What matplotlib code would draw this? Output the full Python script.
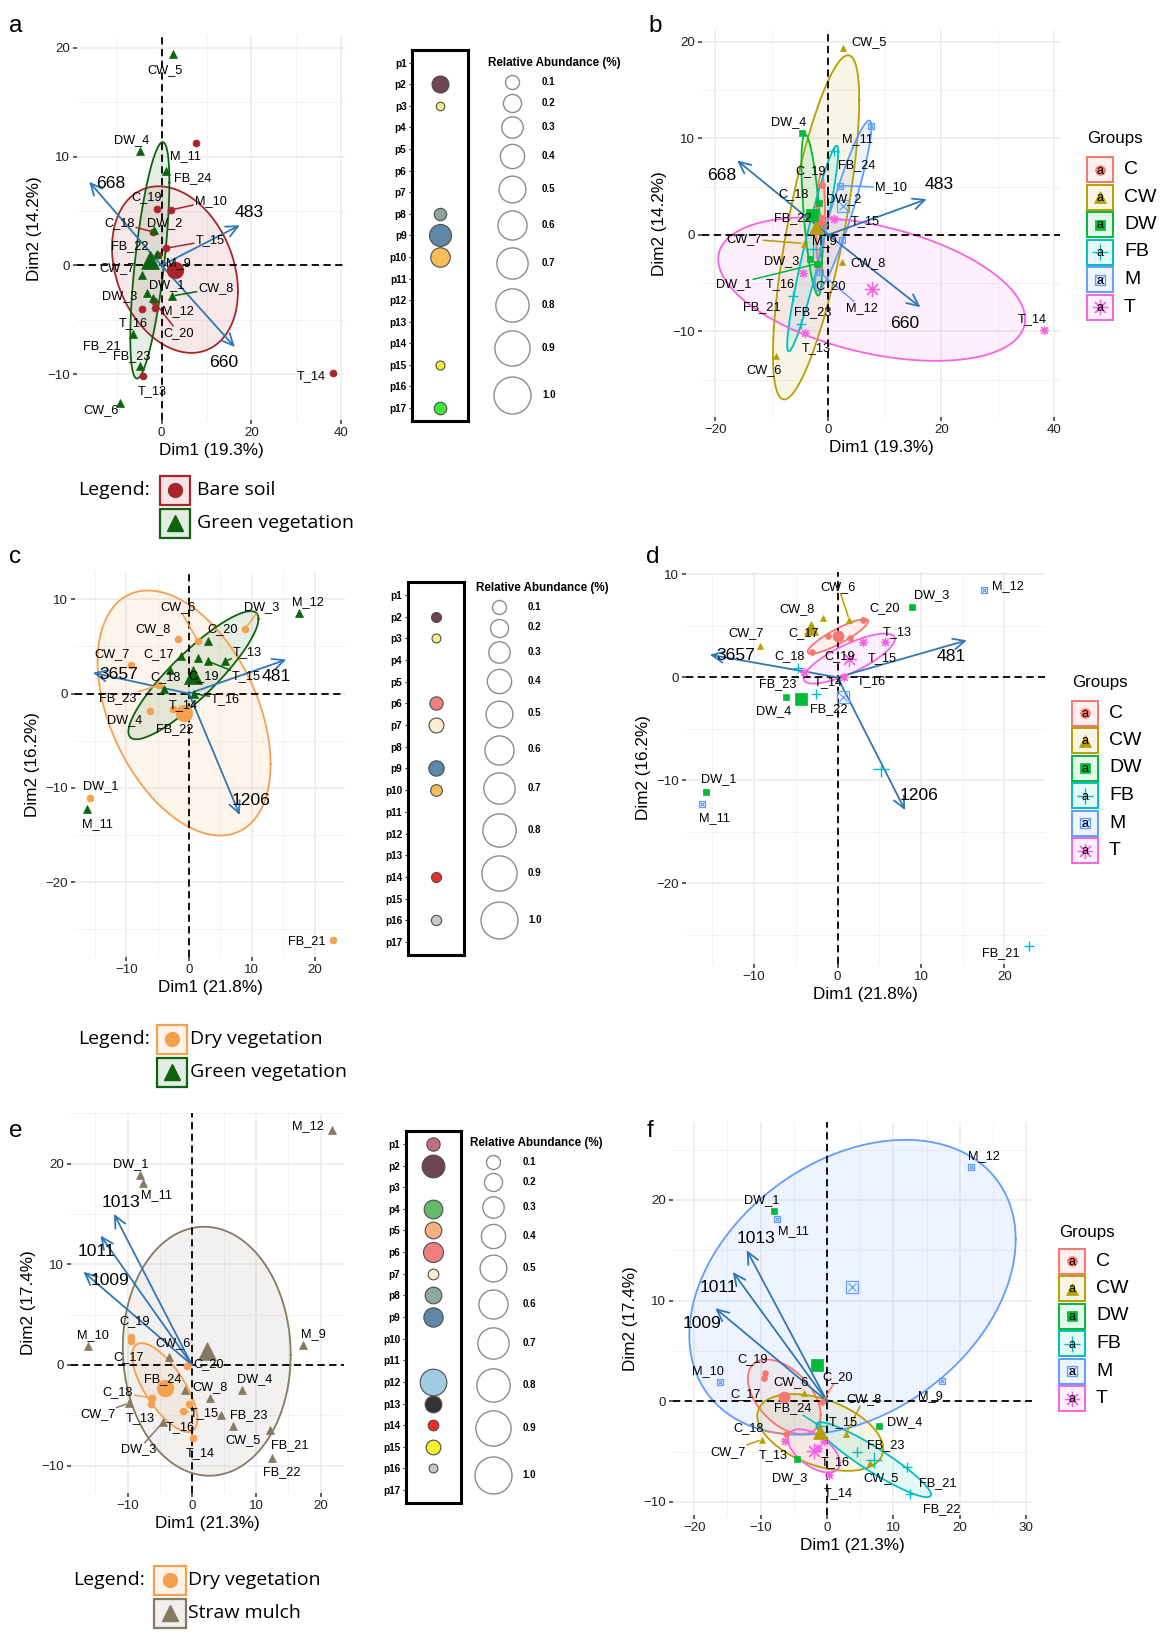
import numpy as np
import matplotlib
matplotlib.use('Agg')
import matplotlib.pyplot as plt
from matplotlib.ticker import FixedLocator
from matplotlib.patches import Rectangle
from matplotlib.colors import to_rgb

plt.rcParams['font.family'] = ['Liberation Sans', 'DejaVu Sans']
LEG_FONT = ['Open Sans', 'DejaVu Sans']

# ==================== data ====================
# PCA 1 (panels a, b)
samples_ab = ['C_17', 'C_18', 'C_19', 'C_20', 'CW_5', 'CW_6', 'CW_7', 'CW_8',
              'DW_1', 'DW_2', 'DW_3', 'DW_4', 'FB_21', 'FB_22', 'FB_23', 'FB_24',
              'M_9', 'M_10', 'M_11', 'M_12', 'T_13', 'T_14', 'T_15', 'T_16']
dim1_ab = [-0.7, -2.0, -1.1, -1.7, 2.6, -9.3, -4.3, 2.4,
           -2.0, -1.7, -3.3, -4.7, -6.3, -1.0, -4.8, 1.1,
           2.5, 2.0, 7.6, -1.5, -4.1, 38.1, 1.1, -4.4]
dim2_ab = [1.0, 3.1, 5.2, -3.3, 19.4, -12.6, -0.9, -2.8,
           -3.0, 3.3, -2.5, 10.5, -6.3, 1.1, -9.2, 8.7,
           -0.5, 5.1, 11.3, -3.9, -10.2, -9.9, 1.6, -4.0]
vars_ab = ['668', '483', '660']
var1_ab = [-16.1, 17.4, 16.3]
var2_ab = [7.7, 3.7, -7.5]

# PCA 2 (panels c, d)
samples_cd = ['C_17', 'C_18', 'C_19', 'C_20', 'CW_6', 'CW_7', 'CW_8',
              'DW_1', 'DW_3', 'DW_4', 'FB_21', 'FB_22', 'FB_23',
              'M_11', 'M_12', 'T_13', 'T_14', 'T_15', 'T_16']
dim1_cd = [-1.2, -3.1, 1.5, 3.0, 1.4, -9.3, -1.7,
           -15.7, 8.9, -6.2, 22.9, -2.6, -4.7,
           -16.2, 17.5, 5.7, -4.0, 3.1, 0.8]
dim2_cd = [4.0, 2.5, 3.8, 5.6, 5.6, 3.0, 5.8,
           -11.1, 6.8, -1.9, -26.1, -1.6, 0.9,
           -12.3, 8.5, 3.4, 0.5, 3.4, 0.0]
vars_cd = ['3657', '481', '1206']
var1_cd = [-15.3, 15.5, 8.1]
var2_cd = [2.2, 3.6, -12.9]

# PCA 3 (panels e, f)
samples_ef = ['C_17', 'C_18', 'C_19', 'C_20', 'CW_5', 'CW_6', 'CW_7', 'CW_8',
              'DW_1', 'DW_3', 'DW_4', 'FB_21', 'FB_22', 'FB_23', 'FB_24',
              'M_9', 'M_10', 'M_11', 'M_12', 'T_13', 'T_14', 'T_15', 'T_16']
dim1_ef = [-9.5, -6.2, -9.4, -0.7, 6.4, -3.5, -9.8, 2.8,
           -8.0, -4.5, 7.8, 12.1, 12.5, 4.5, -1.0,
           17.3, -16.1, -7.6, 21.7, -6.3, 0.25, -1.4, -0.5]
dim2_ef = [2.35, -3.3, 2.8, -0.1, -6.1, 0.8, -3.8, -3.3,
           18.9, -5.7, -2.5, -6.5, -9.2, -5.0, -2.5,
           2.0, 1.9, 18.1, 23.3, -3.9, -7.3, -4.6, -3.9]
vars_ef = ['1013', '1011', '1009']
var1_ef = [-12.1, -14.2, -16.85]
var2_ef = [15.0, 12.85, 9.25]

# habitat grouping used in panels a, c, e
habitat_a = {'C': 'Bare soil', 'M': 'Bare soil', 'T': 'Bare soil',
             'CW': 'Green vegetation', 'DW': 'Green vegetation', 'FB': 'Green vegetation'}
habitat_c = {'CW': 'Dry vegetation', 'DW': 'Dry vegetation', 'FB': 'Dry vegetation',
             'C': 'Green vegetation', 'M': 'Green vegetation', 'T': 'Green vegetation'}
habitat_e = {'C': 'Dry vegetation', 'T': 'Dry vegetation',
             'CW': 'Straw mulch', 'DW': 'Straw mulch', 'FB': 'Straw mulch', 'M': 'Straw mulch'}

# bubble panels (relative abundance %, nan = absent)
nan = np.nan
p_names = ['p%d' % i for i in range(1, 18)]
p_colors = ['#C0707F', '#6E4552', '#F6EC8C', '#66BB6A', '#F4B183', '#F08080', '#FBEBD0',
            '#8CA89E', '#5F88A8', '#F9BC5B', '#BBBBBB', '#A0CBE3', '#333333', '#EE2A2A',
            '#F5F02F', '#C8C8C8', '#3BE83B']
abund_a = [nan, 0.17, 0.005, nan, nan, nan, nan, 0.066, 0.32, 0.24,
           nan, nan, nan, nan, 0.012, nan, 0.07]
abund_c = [nan, 0.026, 0.01, nan, nan, 0.085, 0.12, nan, 0.13, 0.054,
           nan, nan, nan, 0.026, nan, 0.03, nan]
abund_e = [0.085, 0.345, nan, 0.217, 0.163, 0.256, 0.037, 0.163, 0.235, nan,
           nan, 0.495, 0.163, 0.037, 0.115, 0.01, nan]
size_breaks = [0.1, 0.2, 0.3, 0.4, 0.5, 0.6, 0.7, 0.8, 0.9, 1.0]

# ==================== label placement (data coords, seg flag) ====================
lab_a = {'CW_5': (0.7, 18.0, 0), 'DW_4': (-6.7, 11.5, 0), 'M_11': (5.4, 10.1, 0),
         'FB_24': (7.0, 8.0, 0), 'C_19': (-3.3, 6.3, 0), 'M_10': (10.9, 5.9, 1),
         'C_18': (-9.4, 3.9, 1), 'DW_2': (0.8, 3.9, 0), 'T_15': (10.8, 2.3, 1),
         'FB_22': (-7.0, 1.8, 0), 'CW_7': (-9.9, -0.25, 0), 'M_9': (3.7, 0.2, 0),
         'DW_1': (1.2, -1.8, 0), 'CW_8': (12.1, -2.1, 1), 'DW_3': (-9.3, -2.8, 0),
         'M_12': (3.6, -4.2, 0), 'T_16': (-6.4, -5.3, 0), 'C_20': (3.8, -6.2, 1),
         'FB_21': (-13.4, -7.4, 0), 'FB_23': (-6.7, -8.3, 0), 'T_13': (-2.1, -11.5, 0),
         'CW_6': (-13.5, -13.3, 0), 'T_14': (33.3, -10.2, 0)}
lab_b = {'CW_5': (7.2, 20.0, 0), 'DW_4': (-7.0, 11.7, 0), 'M_11': (5.1, 9.9, 0),
         'FB_24': (5.1, 7.2, 0), 'C_19': (-3.1, 6.6, 0), 'M_10': (11.0, 4.9, 1),
         'C_18': (-6.1, 4.25, 0), 'DW_2': (2.8, 3.7, 0), 'FB_22': (-6.2, 1.7, 0),
         'T_15': (6.6, 1.4, 1), 'CW_7': (-14.9, -0.4, 1), 'M_9': (-0.7, -0.6, 0),
         'DW_3': (-8.3, -2.7, 0), 'CW_8': (7.0, -2.95, 0), 'DW_1': (-16.7, -5.1, 1),
         'T_16': (-8.4, -5.1, 0), 'C_20': (0.5, -5.3, 0), 'FB_21': (-11.7, -7.5, 0),
         'FB_23': (-2.7, -8.0, 0), 'M_12': (6.0, -7.6, 1), 'T_13': (-2.1, -11.7, 0),
         'CW_6': (-11.4, -14.0, 0), 'T_14': (36.1, -8.7, 0)}
lab_c = {'CW_6': (-1.7, 9.2, 1), 'DW_3': (11.5, 9.2, 1), 'M_12': (18.9, 9.7, 0),
         'CW_8': (-5.7, 6.8, 0), 'C_20': (5.3, 6.8, 0), 'CW_7': (-12.3, 4.2, 0),
         'C_17': (-4.9, 4.2, 0), 'T_13': (9.3, 4.4, 1), 'C_18': (-3.8, 1.7, 0),
         'C_19': (2.3, 1.8, 0), 'T_15': (9.2, 1.8, 1), 'FB_23': (-11.3, -0.5, 1),
         'T_16': (5.8, -0.6, 1), 'T_14': (-0.9, -1.2, 0), 'DW_4': (-10.2, -2.8, 0),
         'FB_22': (-2.2, -3.8, 0), 'DW_1': (-14.1, -9.8, 0), 'M_11': (-14.6, -13.9, 0),
         'FB_21': (18.7, -26.3, 0)}
lab_d = {'CW_6': (0.1, 8.8, 1), 'DW_3': (11.3, 8.0, 0), 'M_12': (20.4, 8.9, 0),
         'CW_8': (-4.8, 6.6, 0), 'C_20': (5.7, 6.7, 0), 'CW_7': (-11.0, 4.3, 0),
         'C_17': (-4.1, 4.3, 0), 'T_13': (7.2, 4.4, 0), 'C_18': (-5.8, 2.1, 0),
         'C_19': (0.2, 2.1, 0), 'T_15': (5.4, 1.9, 0), 'FB_23': (-7.2, -0.7, 0),
         'T_14': (-1.1, -0.5, 0), 'T_16': (4.0, -0.4, 0), 'DW_4': (-7.6, -3.3, 0),
         'FB_22': (-1.0, -3.1, 0), 'DW_1': (-14.2, -9.9, 0), 'M_11': (-14.8, -13.7, 0),
         'FB_21': (19.6, -26.8, 0)}
lab_e = {'M_12': (18.1, 23.7, 0), 'DW_1': (-9.5, 19.9, 0), 'M_11': (-5.5, 16.9, 0),
         'C_19': (-8.9, 4.4, 0), 'M_10': (-15.3, 3.0, 0), 'CW_6': (-3.0, 2.2, 0),
         'M_9': (18.8, 3.1, 0), 'C_17': (-9.8, 0.8, 0), 'C_20': (2.6, 0.07, 1),
         'FB_24': (-4.6, -1.4, 0), 'DW_4': (9.8, -1.4, 0), 'CW_8': (2.8, -2.2, 0),
         'C_18': (-11.5, -2.7, 1), 'CW_7': (-14.65, -4.9, 1), 'T_15': (2.0, -4.8, 1),
         'FB_23': (8.8, -5.0, 0), 'T_13': (-8.0, -5.3, 0), 'T_16': (-1.8, -6.2, 0),
         'CW_5': (7.9, -7.5, 0), 'FB_21': (15.2, -8.0, 0), 'DW_3': (-8.3, -8.4, 1),
         'T_14': (1.3, -8.8, 0), 'FB_22': (13.9, -10.65, 0)}
lab_f = {'M_12': (23.6, 24.4, 0), 'DW_1': (-9.8, 20.0, 0), 'M_11': (-5.0, 16.9, 0),
         'C_19': (-11.2, 4.2, 0), 'M_10': (-17.9, 3.0, 0), 'CW_6': (-5.4, 1.9, 0),
         'C_20': (1.6, 2.4, 1), 'C_17': (-12.3, 0.7, 0), 'CW_8': (5.5, 0.2, 1),
         'M_9': (15.6, 0.5, 0), 'FB_24': (-5.2, -0.7, 1), 'T_15': (2.4, -2.1, 0),
         'DW_4': (11.7, -2.1, 0), 'C_18': (-11.8, -2.7, 1), 'FB_23': (8.8, -4.4, 0),
         'CW_7': (-14.9, -5.0, 1), 'T_13': (-8.1, -5.3, 0), 'T_16': (1.2, -6.0, 0),
         'DW_3': (-5.7, -7.6, 0), 'CW_5': (8.2, -7.6, 0), 'FB_21': (16.6, -8.1, 0),
         'T_14': (1.65, -9.1, 0), 'FB_22': (17.2, -10.7, 0)}
vlab_a = [(-11.3, 7.5), (19.6, 4.9), (13.9, -8.9)]
vlab_b = [(-18.8, 6.1), (19.7, 5.2), (13.6, -9.2)]
vlab_c = [(-11.2, 2.05), (13.9, 1.8), (9.85, -11.4)]
vlab_d = [(-12.2, 2.1), (13.6, 2.0), (9.8, -11.5)]
vlab_e = [(-11.0, 16.1), (-14.9, 11.3), (-12.75, 8.4)]
vlab_f = [(-10.7, 16.2), (-16.3, 11.3), (-18.8, 7.7)]

# ==================== styles ====================
GROUPS = ['C', 'CW', 'DW', 'FB', 'M', 'T']
group_cols = {'C': '#F8766D', 'CW': '#B79F00', 'DW': '#00BA38',
              'FB': '#00BFC4', 'M': '#619CFF', 'T': '#F564E3'}
group_mk = {'C': 'o', 'CW': '^', 'DW': 's', 'FB': '+', 'M': 'boxx', 'T': 'ast'}
hab_cols = {'Bare soil': '#A8262B', 'Green vegetation': '#0E640E',
            'Dry vegetation': '#F5A04E', 'Straw mulch': '#857A64'}
hab_mk = {'Bare soil': 'o', 'Green vegetation': '^', 'Dry vegetation': 'o', 'Straw mulch': '^'}
MS_GRP = {'o': 4.2, '^': 5.0, 's': 3.8, '+': 6.5, 'boxx': 4.3, 'ast': 6.5}
MS_GRP_BIG = {'o': 8, '^': 10, 's': 8, '+': 11, 'boxx': 8.5, 'ast': 11}
MS_HAB = {'o': 5, '^': 5.5}
MS_HAB_BIG = {'o': 12, '^': 12.5}
ARROW = '#2F77B6'

W, H = 1167, 1637
fig = plt.figure(figsize=(W / 100, H / 100), dpi=100)
renderer = fig.canvas.get_renderer()

# overlay axes in pixel coords for legends / letters
ov = fig.add_axes([0, 0, 1, 1])
ov.set_xlim(0, W)
ov.set_ylim(H, 0)
ov.axis('off')


def px_rect(x0, y0, x1, y1):
    return [x0 / W, 1 - y1 / H, (x1 - x0) / W, (y1 - y0) / H]


def tint(c, a=0.12):
    r = np.array(to_rgb(c))
    return tuple(1 - a * (1 - r))


def prefix(n):
    return n.split('_')[0]


def ellipse_pts(x, y, nseg=120):
    # ggplot stat_ellipse(type="norm", level=0.5)
    x = np.asarray(x, float)
    y = np.asarray(y, float)
    d = len(x) - 1
    qf = d / 2.0 * (2 ** (2.0 / d) - 1)
    rad = np.sqrt(2 * qf)
    L = np.linalg.cholesky(np.cov(x, y))
    t = np.linspace(0, 2 * np.pi, nseg)
    e = L @ np.vstack([np.cos(t), np.sin(t)]) * rad
    return x.mean() + e[0], y.mean() + e[1]


def put_marker(ax, x, y, mk, col, ms, z=5):
    if mk == 'boxx':
        ax.plot(x, y, ls='none', marker='s', ms=ms, mfc='none', mec=col, mew=0.9, zorder=z)
        ax.plot(x, y, ls='none', marker='x', ms=ms * 0.72, mec=col, mew=0.9, zorder=z)
    elif mk == 'ast':
        ax.plot(x, y, ls='none', marker=(8, 2, 0), ms=ms, mec=col, mew=0.9, zorder=z)
    elif mk == '+':
        ax.plot(x, y, ls='none', marker='+', ms=ms, mec=col, mew=1.0, zorder=z)
    else:
        ax.plot(x, y, ls='none', marker=mk, ms=ms, mfc=col, mec=col, mew=0.5, zorder=z)


def minor_of(ticks, lim):
    step = ticks[1] - ticks[0]
    c = np.arange(ticks[0] - 1.5 * step, ticks[-1] + 2 * step, step / 2.0)
    c = [v for v in c if v not in ticks and lim[0] <= v <= lim[1]]
    return c


def seg_to_label(ax, txt, px, py, col):
    bb = txt.get_window_extent(renderer)
    p = ax.transData.transform((px, py))
    c = np.array([(bb.x0 + bb.x1) / 2, (bb.y0 + bb.y1) / 2])
    d = c - p
    hw, hh = bb.width / 2 + 1, bb.height / 2 + 0.5
    s = min(hw / abs(d[0]) if d[0] else np.inf, hh / abs(d[1]) if d[1] else np.inf)
    if s >= 1:
        return
    e = c - s * d
    L = np.hypot(*(e - p))
    st = p + (e - p) * (2.5 / L) if L > 3 else p
    inv = ax.transData.inverted()
    a0, a1 = inv.transform(st), inv.transform(e)
    ax.plot([a0[0], a1[0]], [a0[1], a1[1]], color=col, lw=1.1, zorder=4, solid_capstyle='butt')


def pca_panel(box, names, d1, d2, grp_of, cols, mks, ms_pt, ms_big, labs,
              vnames, v1, v2, vlab, xt, yt, xtitle, ytitle):
    ax = fig.add_axes(px_rect(*box))
    grp = [grp_of(n) for n in names]
    order = sorted(set(grp))
    # ellipses
    ell = {}
    for g in order:
        gx = [d1[i] for i in range(len(names)) if grp[i] == g]
        gy = [d2[i] for i in range(len(names)) if grp[i] == g]
        if len(gx) >= 4:
            ell[g] = ellipse_pts(gx, gy)
    # limits as ggplot: range of everything + 5%
    allx = list(d1) + list(v1) + [v for e in ell.values() for v in e[0]]
    ally = list(d2) + list(v2) + [v for e in ell.values() for v in e[1]]
    xr = (min(allx), max(allx))
    yr = (min(ally), max(ally))
    xlim = (xr[0] - 0.05 * (xr[1] - xr[0]), xr[1] + 0.05 * (xr[1] - xr[0]))
    ylim = (yr[0] - 0.05 * (yr[1] - yr[0]), yr[1] + 0.05 * (yr[1] - yr[0]))
    ax.set_xlim(*xlim)
    ax.set_ylim(*ylim)
    for s in ax.spines.values():
        s.set_visible(False)
    ax.set_xticks(xt)
    ax.set_yticks(yt)
    ax.xaxis.set_minor_locator(FixedLocator(minor_of(xt, xlim)))
    ax.yaxis.set_minor_locator(FixedLocator(minor_of(yt, ylim)))
    ax.grid(True, which='major', color='#EBEBEB', lw=1.1)
    ax.grid(True, which='minor', color='#F2F2F2', lw=0.7)
    ax.set_axisbelow(True)
    ax.tick_params(which='major', length=3, width=1.1, color='#333333',
                   labelsize=9.6, labelcolor='#222222', pad=2)
    ax.tick_params(which='minor', length=0)
    ax.set_xlabel(xtitle, fontsize=12.3, labelpad=3)
    ax.set_ylabel(ytitle, fontsize=12.3, labelpad=4)

    for g in order:
        if g in ell:
            ex, ey = ell[g]
            ax.fill(ex, ey, facecolor=cols[g], alpha=0.1, lw=0, zorder=1)
            ax.plot(ex, ey, color=cols[g], lw=1.3, zorder=2)
    ax.axhline(0, color='black', ls=(0, (4, 2.5)), lw=1.3, zorder=3)
    ax.axvline(0, color='black', ls=(0, (4, 2.5)), lw=1.3, zorder=3)

    for k in range(len(vnames)):
        ax.annotate('', xy=(v1[k], v2[k]), xytext=(0, 0), zorder=4,
                    arrowprops=dict(arrowstyle='->,head_length=0.7,head_width=0.33',
                                    color=ARROW, lw=1.3, shrinkA=0, shrinkB=0,
                                    mutation_scale=12))
        ax.text(vlab[k][0], vlab[k][1], vnames[k], fontsize=12.6,
                ha='center', va='center', zorder=6)

    for i, n in enumerate(names):
        g = grp[i]
        put_marker(ax, d1[i], d2[i], mks[g], cols[g], ms_pt[mks[g]])
    for g in order:
        gx = np.mean([d1[i] for i in range(len(names)) if grp[i] == g])
        gy = np.mean([d2[i] for i in range(len(names)) if grp[i] == g])
        put_marker(ax, gx, gy, mks[g], cols[g], ms_big[mks[g]], z=5)

    for i, n in enumerate(names):
        if n not in labs:
            continue
        lx, ly, sg = labs[n]
        t = ax.text(lx, ly, n, fontsize=9.2, ha='center', va='center', zorder=6)
        if sg:
            seg_to_label(ax, t, d1[i], d2[i], cols[grp[i]])
    return ax


def bub_area(v):
    d_px = np.sqrt(66 + 1303 * v)
    return (d_px * 0.72) ** 2


def bubble_panel(box, vals, tx, ty, cx, lx):
    ax = fig.add_axes(px_rect(*box))
    ax.set_xlim(0.5, 1.5)
    ax.set_ylim(17.6, 0.4)
    for i, v in enumerate(vals):
        if np.isnan(v):
            continue
        ax.scatter([1], [i + 1], s=bub_area(v), color=p_colors[i],
                   edgecolors='#4d4d4d', linewidths=0.8, zorder=3)
    ax.set_yticks(range(1, 18))
    ax.set_yticklabels(p_names, fontweight='bold', fontsize=7.2)
    ax.set_xticks([])
    ax.tick_params(axis='y', length=2.5, width=0.8, color='#333333', pad=1.5)
    for s in ax.spines.values():
        s.set_linewidth(2.2)
        s.set_color('black')
    ov.text(tx, ty, 'Relative Abundance (%)', fontsize=8.4, fontweight='bold',
            ha='left', va='center')
    offs = [19, 39.5, 64, 93, 125.5, 161.5, 200, 242, 285, 332]
    for o, v in zip(offs, size_breaks):
        ov.scatter([cx], [ty + o], s=bub_area(v), facecolor='white',
                   edgecolor='#8c8c8c', linewidths=1.0, zorder=3)
        ov.text(lx, ty + o, '%.1f' % v, fontsize=7, fontweight='bold',
                ha='left', va='center')


def group_legend(x0, y_title, y_first, step=27.5, kw=26, kh=25):
    ov.text(x0, y_title, 'Groups', fontsize=12.2, ha='left', va='center')
    lms = {'o': 7, '^': 8.5, 's': 7, '+': 12, 'boxx': 7.5, 'ast': 11}
    for k, g in enumerate(GROUPS):
        col = group_cols[g]
        yc = y_first + k * step
        ov.add_patch(Rectangle((x0, yc - kh / 2), kw, kh, facecolor=tint(col, 0.1),
                               edgecolor=col, lw=1.4, zorder=2))
        put_marker(ov, x0 + kw / 2, yc, group_mk[g], col, lms[group_mk[g]], z=3)
        ov.text(x0 + kw / 2, yc + 1, 'a', fontsize=9, ha='center', va='center', zorder=4)
        ov.text(x0 + kw + 11, yc, g, fontsize=14, ha='left', va='center')


def habitat_legend(x_text, y0, bx0, bx1, txt_x, habs):
    ov.text(x_text, y0, 'Legend:', fontsize=14, family=LEG_FONT, ha='left', va='center')
    for k, hb in enumerate(habs):
        yc = y0 + k * 33
        col = hab_cols[hb]
        ov.add_patch(Rectangle((bx0, yc - 14.5), bx1 - bx0, 29, facecolor=tint(col, 0.12),
                               edgecolor=col, lw=1.6, zorder=2))
        ov.plot((bx0 + bx1) / 2, yc, ls='none', marker=hab_mk[hb],
                ms=10 if hab_mk[hb] == 'o' else 11, color=col, zorder=3)
        ov.text(txt_x, yc, hb, fontsize=14, family=LEG_FONT, ha='left', va='center')


# ==================== panels ====================
pca_panel((77, 37, 345, 420), samples_ab, dim1_ab, dim2_ab,
          lambda n: habitat_a[prefix(n)], hab_cols, hab_mk, MS_HAB, MS_HAB_BIG, lab_a,
          vars_ab, var1_ab, var2_ab, vlab_a, [0, 20, 40], [-10, 0, 10, 20],
          'Dim1 (19.3%)', 'Dim2 (14.2%)')
pca_panel((702, 30, 1060, 417), samples_ab, dim1_ab, dim2_ab,
          prefix, group_cols, group_mk, MS_GRP, MS_GRP_BIG, lab_b,
          vars_ab, var1_ab, var2_ab, vlab_b, [-20, 0, 20, 40], [-10, 0, 10, 20],
          'Dim1 (19.3%)', 'Dim2 (14.2%)')
pca_panel((75, 573, 345, 957), samples_cd, dim1_cd, dim2_cd,
          lambda n: habitat_c[prefix(n)], hab_cols, hab_mk, MS_HAB, MS_HAB_BIG, lab_c,
          vars_cd, var1_cd, var2_cd, vlab_c, [-10, 0, 10, 20], [-20, -10, 0, 10],
          'Dim1 (21.8%)', 'Dim2 (16.2%)')
pca_panel((686, 572, 1045, 964), samples_cd, dim1_cd, dim2_cd,
          prefix, group_cols, group_mk, MS_GRP, MS_GRP_BIG, lab_d,
          vars_cd, var1_cd, var2_cd, vlab_d, [-10, 0, 10, 20], [-20, -10, 0, 10],
          'Dim1 (21.8%)', 'Dim2 (16.2%)')
pca_panel((71, 1113, 344, 1493), samples_ef, dim1_ef, dim2_ef,
          lambda n: habitat_e[prefix(n)], hab_cols, hab_mk, MS_HAB, MS_HAB_BIG, lab_e,
          vars_ef, var1_ef, var2_ef, vlab_e, [-10, 0, 10, 20], [-10, 0, 10, 20],
          'Dim1 (21.3%)', 'Dim2 (17.4%)')
pca_panel((673, 1122, 1032, 1515), samples_ef, dim1_ef, dim2_ef,
          prefix, group_cols, group_mk, MS_GRP, MS_GRP_BIG, lab_f,
          vars_ef, var1_ef, var2_ef, vlab_f, [-20, -10, 0, 10, 20, 30], [-10, 0, 10, 20],
          'Dim1 (21.3%)', 'Dim2 (17.4%)')

bubble_panel((412, 49.7, 468, 421), abund_a, 488, 63, 512, 542)
bubble_panel((407.7, 582, 464, 955), abund_c, 476, 588, 499.3, 528)
bubble_panel((405.7, 1131, 460.7, 1503), abund_e, 470, 1142.7, 493.3, 522.7)

group_legend(1087, 139, 169.5)
group_legend(1072, 683, 713)
group_legend(1059, 1232, 1261)

habitat_legend(78, 490, 160, 190, 197, ['Bare soil', 'Green vegetation'])
habitat_legend(77.7, 1039, 156.7, 186.7, 190, ['Dry vegetation', 'Green vegetation'])
habitat_legend(73, 1580, 154, 186, 188, ['Dry vegetation', 'Straw mulch'])

for letter, x, y in [('a', 9, 32), ('b', 648, 32), ('c', 9, 563), ('d', 646, 563),
                     ('e', 9, 1137), ('f', 647, 1137)]:
    ov.text(x, y, letter, fontsize=17.5, ha='left', va='baseline')

fig.savefig('out.png', dpi=100)
